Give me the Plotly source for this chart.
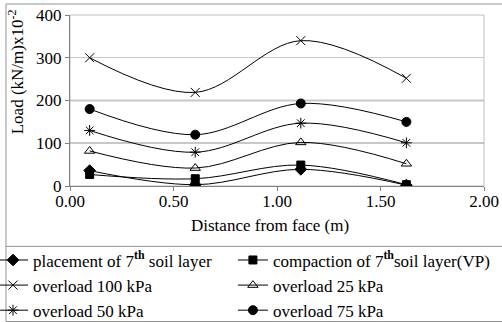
import plotly.graph_objects as go

# Data
distance = [0.095, 0.605, 1.115, 1.625]
placement_7th = [36, 3, 39, 2]
compaction_7th = [27, 17, 49, 3]
overload_100 = [300, 219, 340, 252]
overload_25 = [82, 42, 102, 52]
overload_50 = [130, 79, 147, 101]
overload_75 = [180, 120, 193, 150]

y_ticks = [0, 100, 200, 300, 400]
x_ticks = [0.0, 0.5, 1.0, 1.5, 2.0]
dark_grid = [100, 200]

FONT = "Liberation Serif, Times New Roman, serif"
# (name, values, marker symbol, marker size, legend column)
series = [
    ("placement of 7<sup><b>th</b></sup> soil layer", placement_7th, "diamond", 9, "legend"),
    ("compaction of 7<sup><b>th</b></sup>soil layer(VP)", compaction_7th, "square", 8, "legend2"),
    ("overload 100 kPa", overload_100, "x-thin-open", 9, "legend"),
    ("overload 25 kPa", overload_25, "triangle-up-open", 9, "legend2"),
    ("overload 50 kPa", overload_50, "asterisk-open", 9, "legend"),
    ("overload 75 kPa", overload_75, "circle", 9, "legend2"),
]

fig = go.Figure()
for name, vals, sym, size, leg in series:
    fig.add_trace(go.Scatter(
        x=distance, y=vals, name=name, mode="lines+markers", legend=leg,
        line=dict(color="black", width=1, shape="spline", smoothing=1),
        marker=dict(symbol=sym, size=size, color="black",
                    line=dict(color="black", width=1)),
    ))

shapes = []
shapes.append(dict(type="rect", xref="paper", yref="paper", x0=0, x1=1, y0=0, y1=1,
                   line=dict(color="#c0c0c0", width=1), layer="below"))
for g in dark_grid:
    shapes.append(dict(type="line", xref="paper", yref="y", x0=0, x1=1, y0=g, y1=g,
                       line=dict(color="#909090", width=1.5), layer="below"))
shapes.append(dict(type="rect", xref="paper", yref="paper", x0=-0.1546, x1=1.1,
                   y0=-0.7926, y1=1.0644, line=dict(color="#909090", width=1)))
shapes.append(dict(type="line", xref="paper", yref="paper", x0=-0.1546, x1=1.1,
                   y0=-0.353, y1=-0.353, line=dict(color="#909090", width=1)))

leg_common = dict(orientation="v", yanchor="top", xanchor="left", y=-0.330,
                  itemwidth=30, font=dict(family=FONT, size=17),
                  bgcolor="rgba(0,0,0,0)", borderwidth=0, tracegroupgap=0)

fig.update_layout(
    width=502, height=322,
    margin=dict(l=70, r=18, t=15, b=136, autoexpand=False),
    paper_bgcolor="white", plot_bgcolor="white",
    font=dict(family=FONT, size=17, color="black"),
    showlegend=True,
    legend=dict(x=-0.186, **leg_common),
    legend2=dict(x=0.3935, **leg_common),
    xaxis=dict(range=[0, 2], tickvals=x_ticks, tickformat=".2f",
               showgrid=False, showline=True, linecolor="#808080", linewidth=1,
               ticks="outside", ticklen=4, tickcolor="#808080", zeroline=False,
               ticklabelstandoff=-4,
               automargin=False, tickfont=dict(family=FONT, size=17)),
    yaxis=dict(range=[0, 400], tickvals=y_ticks,
               showgrid=True, gridcolor="#c8c8c8", gridwidth=1,
               showline=True, linecolor="#808080", linewidth=1,
               ticks="outside", ticklen=4, tickcolor="#808080", zeroline=False,
               automargin=False, tickfont=dict(family=FONT, size=17)),
    shapes=shapes,
    annotations=[
        dict(text="Distance from face (m)", xref="paper", yref="paper",
             x=0.483, y=-0.23, xanchor="center", yanchor="middle",
             showarrow=False, font=dict(family=FONT, size=17)),
        dict(text="Load (kN/m)x10<sup>-2</sup>", xref="paper", yref="paper",
             x=-0.13, y=0.666, xanchor="center", yanchor="middle", textangle=-90,
             showarrow=False, font=dict(family=FONT, size=17)),
    ],
)

fig.write_html("out.html", config={"displayModeBar": False},
               post_script="document.body.style.margin='0';")
